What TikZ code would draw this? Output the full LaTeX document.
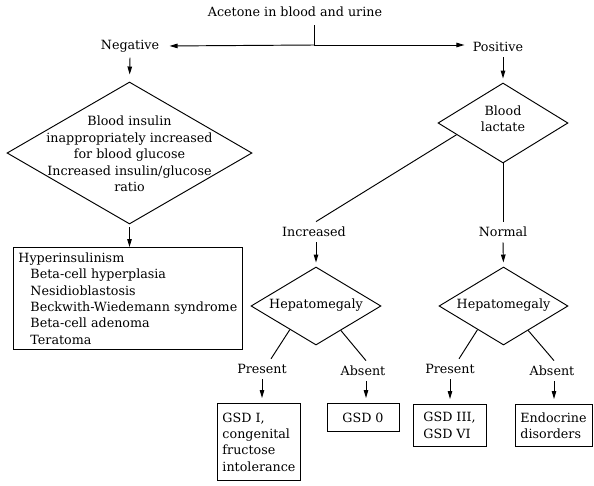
\documentclass[tikz,border=0pt]{standalone}
\usepackage{fontspec}
\setmainfont{DejaVu Serif}
\usetikzlibrary{arrows.meta,shapes.geometric,calc}

\tikzset{
  every node/.style={font=\fontsize{12.7}{16.4}\selectfont},
  lbl/.style={inner sep=5pt},
  decision/.style={draw, diamond, inner sep=0pt},
  outcome/.style={draw, align=left, inner xsep=5pt, inner ysep=3pt},
  arr/.style={-{Triangle[length=8pt,width=4.5pt]}},
}

\begin{document}
\begin{tikzpicture}[x=1pt,y=-1pt,line width=0.95pt]
  \useasboundingbox (0,0) rectangle (594,485);

  \node[lbl] (acetone) at (295,12) {Acetone in blood and urine};
  \node[lbl] (neg) at (130,46) {Negative};
  \node[lbl] (pos) at (498,47) {Positive};
  \coordinate (split) at (314,45);
  \draw ([yshift=-3pt]acetone.south -| split) -- (split);
  \draw[arr, shorten >=5pt] (split) -- (neg.east);
  \draw[arr, shorten >=3pt] (split) -- (pos.west |- split);

  % negative branch
  \node[decision, minimum width=245pt, minimum height=142pt] (insulin) at (129.5,153) {};
  \node[align=center] (insulintxt) at (129.5,154) {Blood insulin\\inappropriately increased\\for blood glucose\\Increased insulin/glucose\\ratio};
  \draw[arr, shorten >=7pt] (neg.south) -- (insulin.north);
  \node[outcome, minimum width=228pt, minimum height=102pt, anchor=north west] (hyper) at (13,247)
    {Hyperinsulinism\\
     \hspace*{12pt}Beta-cell hyperplasia\\
     \hspace*{12pt}Nesidioblastosis\\
     \hspace*{12pt}Beckwith-Wiedemann syndrome\\
     \hspace*{12pt}Beta-cell adenoma\\
     \hspace*{12pt}Teratoma};
  \draw[arr, shorten <=3pt] (insulin.south) -- (insulin.south |- hyper.north);

  % positive branch
  \node[decision, minimum width=130pt, minimum height=80pt] (lactate) at (503,123) {};
  \node[align=center] (lactatetxt) at (503,119) {Blood\\lactate};
  \draw[arr, shorten >=4pt] (pos.south -| lactate.north) -- (lactate.north);
  \node[lbl] (incr) at (314,232) {Increased};
  \node[lbl] (norm) at (503,232) {Normal};
  \draw ($(lactate.west)!0.29!(lactate.south)$) -- ([xshift=2pt]incr.north);
  \draw (lactate.south) -- (norm.north);

  \node[decision, minimum width=130pt, minimum height=78pt] (hepA) at (316,306) {};
  \node (hepAtxt) at (316,305) {Hepatomegaly};
  \node[decision, minimum width=129pt, minimum height=78pt] (hepB) at (503.5,306) {};
  \node (hepBtxt) at (503.5,305) {Hepatomegaly};
  \draw[arr, shorten >=4pt] (hepA.north |- incr.south) -- (hepA.north);
  \draw[arr, shorten >=4pt] (norm.south) -- (hepB.north);

  \node[lbl] (presA) at (262,369) {Present};
  \node[lbl] (absA) at (363,371) {Absent};
  \node[lbl] (presB) at (450,369) {Present};
  \node[lbl] (absB) at (552,371) {Absent};
  \draw ($(hepA.west)!0.6!(hepA.south)$) -- ([xshift=9pt]presA.north);
  \draw ($(hepA.south)!0.38!(hepA.east)$) -- ([xshift=3pt]absA.north);
  \draw ($(hepB.west)!0.6!(hepB.south)$) -- ([xshift=9pt]presB.north);
  \draw ($(hepB.south)!0.38!(hepB.east)$) -- ([xshift=2pt]absB.north);

  \node[outcome, minimum width=82pt, minimum height=77pt, anchor=north] (gsdI) at (259,403)
    {GSD I,\\congenital\\fructose\\intolerance};
  \node[outcome, minimum width=72pt, minimum height=28pt, anchor=north] (gsdO) at (363,403) {GSD 0};
  \node[outcome, minimum width=73pt, minimum height=42pt, anchor=north] (gsdIII) at (449.5,404) {GSD III,\\GSD VI};
  \node[outcome, minimum width=77pt, minimum height=42pt, anchor=north] (endo) at (553.5,404) {Endocrine\\disorders};

  \draw[arr, shorten >=5pt] (presA.south) -- (presA.south |- gsdI.north);
  \draw[arr, shorten >=5pt] ([xshift=3pt]absA.south) -- ([xshift=3pt]absA.south |- gsdO.north);
  \draw[arr, shorten >=5pt] (presB.south) -- (presB.south |- gsdIII.north);
  \draw[arr, shorten >=5pt] ([xshift=2pt]absB.south) -- ([xshift=2pt]absB.south |- endo.north);
\end{tikzpicture}
\end{document}
